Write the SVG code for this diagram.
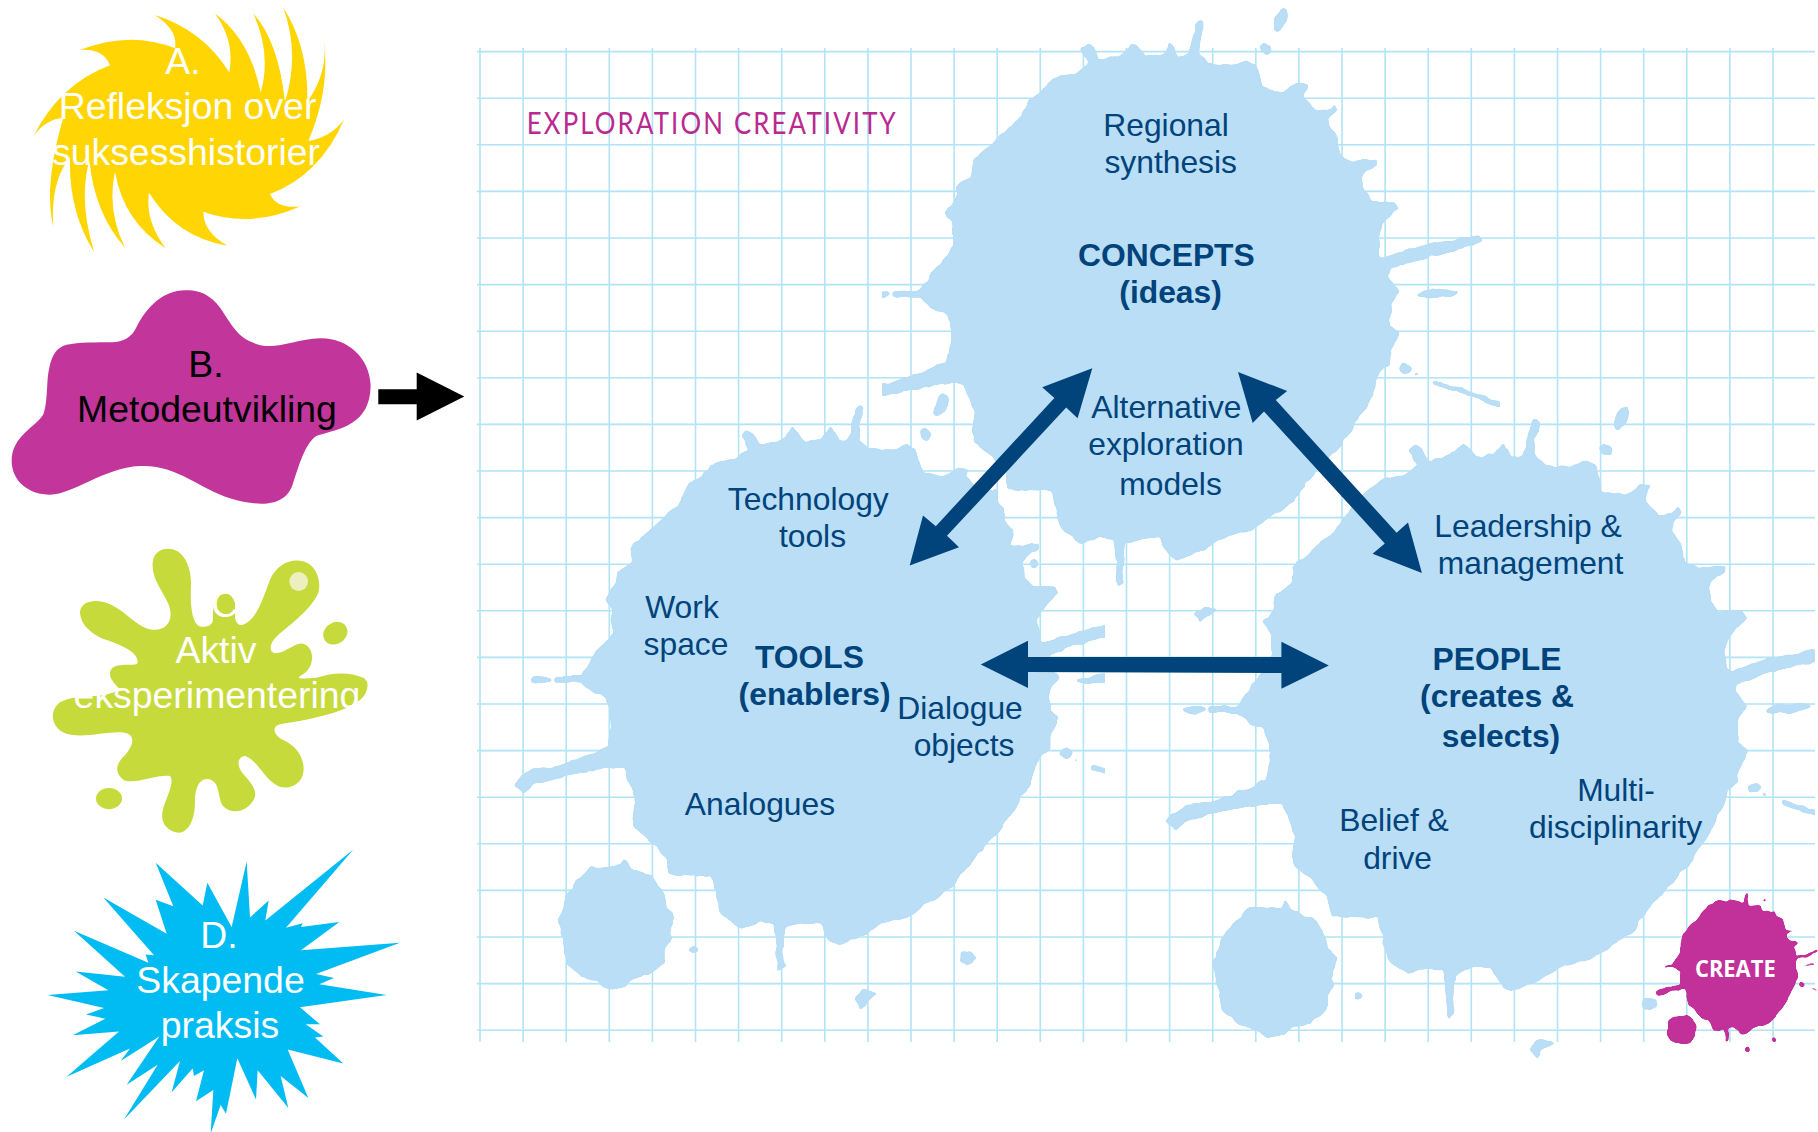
<svg xmlns="http://www.w3.org/2000/svg" xmlns:xlink="http://www.w3.org/1999/xlink" width="1818" height="1132" viewBox="0 0 1818 1132">
<style>
text{font-family:"Liberation Sans",Arial,sans-serif;text-anchor:middle}
.big{font-size:37.4px}
.w{fill:#fff}
.k{fill:#000}
.n{font-size:31.8px;fill:#01437B}
.b{font-weight:bold}
.splash{fill:#B9DEF6;stroke:#B9DEF6;stroke-width:3;stroke-linejoin:round}
.mag{fill:#C2309A}
.arrow{fill:#01437B}
</style>
<defs>
<filter id="organic" filterUnits="userSpaceOnUse" x="0" y="0" width="1818" height="1132" color-interpolation-filters="sRGB">
<feTurbulence type="fractalNoise" baseFrequency="0.07" numOctaves="2" seed="4" result="n"/>
<feDisplacementMap in="SourceGraphic" in2="n" scale="6" xChannelSelector="R" yChannelSelector="G" result="d"/>
<feGaussianBlur in="d" stdDeviation="1.1" result="b"/>
<feComponentTransfer in="b"><feFuncA type="linear" slope="5" intercept="-2"/></feComponentTransfer>
</filter>
<clipPath id="clipConcepts"><rect x="882" y="0" width="936" height="1132"/></clipPath>
<clipPath id="clipTools"><rect x="0" y="0" width="1105" height="1132"/></clipPath>
<clipPath id="clipPeople"><rect x="0" y="0" width="1815" height="1132"/></clipPath>
<g id="splat">
<path d="M636 73L650 60L665 70L680 100L712 92L740 80L760 55L775 72L790 90L830 85L850 55L862 75L870 90L895 85L905 50L915 5L925 -2L932 5L922 60L920 85L945 110L1000 115L1040 100L1060 110L1075 170L1125 185L1165 155L1185 160L1175 195L1205 230L1235 225L1250 212L1258 225L1235 250L1235 265L1255 300L1265 345L1295 358L1355 352L1355 365L1325 385L1315 405L1325 440L1340 460L1395 462L1405 478L1375 505L1355 545L1358 600L1370 605L1460 575L1600 548L1607 560L1590 572L1440 612L1385 635L1378 655L1405 690L1385 720L1383 775L1408 800L1385 840L1385 875L1360 895L1340 960L1305 1020L1270 1075L1240 1110L1180 1180L1150 1230L1080 1275L1050 1300L980 1320L930 1350L870 1378L850 1365L825 1320L780 1320L740 1335L735 1395L738 1430L725 1445L722 1400L715 1325L680 1320L635 1335L590 1300L578 1265L565 1200L460 1195L450 1150L415 1110L375 1075L370 1050L378 1000L350 925L300 925L200 945L130 965L105 988L85 970L90 955L125 930L180 925L255 895L310 870L320 820L315 770L305 745L270 730L245 705L180 705L180 692L246 690L277 641L323 579L323 516L304 490L328 459L333 422L369 396L374 354L481 255L507 203L583 140L625 135L655 109L636 73Z"/>
<ellipse cx="147" cy="698" rx="25" ry="9"/>
<ellipse cx="1500" cy="697" rx="50" ry="9" transform="rotate(-6 1500 697)"/>
<ellipse cx="1423" cy="888" rx="14" ry="12"/>
<circle cx="1448" cy="903" r="3"/>
<path d="M1487 916L1654 974L1652 984L1485 926Z"/>
<ellipse cx="1120" cy="-3" rx="13" ry="28" transform="rotate(20 1120 -3)"/>
<ellipse cx="1084" cy="72" rx="12" ry="13"/>
<path d="M1170 1395L1195 1395L1205 1412L1185 1425L1168 1420Z"/>
<circle cx="520" cy="1388" r="9"/>
<path d="M912 1515L935 1493L965 1505L940 1520L925 1537Z"/>
<path d="M353 1158L369 1184L415 1200L445 1247L450 1273L469 1299L461 1351L466 1362L450 1388L450 1419L410 1455L369 1466L353 1481L312 1490L277 1466L246 1455L210 1424L200 1362L190 1309L210 1252L236 1215L271 1179L307 1179L343 1174Z"/>
</g>
</defs>
<g id="grid" fill="none" stroke="#B0E4F6" stroke-width="1.6">
<path d="M477 51.6H1815M477 98.2H1815M477 144.8H1815M477 191.4H1815M477 238H1815M477 284.6H1815M477 331.2H1815M477 377.8H1815M477 424.4H1815M477 471H1815M477 517.6H1815M477 564.2H1815M477 610.8H1815M477 657.4H1815M477 704H1815M477 750.6H1815M477 797.2H1815M477 843.8H1815M477 890.4H1815M477 937H1815M477 983.6H1815M477 1030.2H1815"/>
<path d="M480 48V1042M523.1 48V1042M566.2 48V1042M609.3 48V1042M652.4 48V1042M695.5 48V1042M738.6 48V1042M781.7 48V1042M824.8 48V1042M867.9 48V1042M911 48V1042M954.1 48V1042M997.2 48V1042M1040.3 48V1042M1083.4 48V1042M1126.5 48V1042M1169.6 48V1042M1212.7 48V1042M1255.8 48V1042M1298.9 48V1042M1342 48V1042M1385.1 48V1042M1428.2 48V1042M1471.3 48V1042M1514.4 48V1042M1557.5 48V1042M1600.6 48V1042M1643.7 48V1042M1686.8 48V1042M1729.9 48V1042M1773 48V1042"/>
</g>
<text transform="translate(526.7,134.3) scale(.86,1)" x="0" y="0" textLength="429" lengthAdjust="spacing" style="font-family:Lato,'Liberation Sans',sans-serif;font-size:30px;text-anchor:start" fill="#B9298F">EXPLORATION CREATIVITY</text>
<g id="concepts" clip-path="url(#clipConcepts)"><g filter="url(#organic)"><use xlink:href="#splat" href="#splat" class="splash" transform="translate(819.8,21.3) scale(.41162,.39112)"/></g></g>
<g id="tools" clip-path="url(#clipTools)"><g filter="url(#organic)"><use xlink:href="#splat" href="#splat" class="splash" transform="translate(479.8,406.3) scale(.41162,.39112)"/></g></g>
<g id="people" clip-path="url(#clipPeople)"><g filter="url(#organic)"><use xlink:href="#splat" href="#splat" class="splash" transform="translate(1130,420) scale(.43879,.41459)"/></g></g>
<g id="create-logo">
<g filter="url(#organic)"><g transform="translate(1630,880) scale(.33333)">
<path class="mag" d="M255 62L290 65L300 58L325 62L340 70L347 38L353 38L352 75L385 72L395 90L420 98L433 90L440 105L455 112L462 135L470 155L490 150L492 157L475 165L480 185L505 185L507 192L490 205L498 228L564 210L564 218L505 235L500 250L505 300L495 320L470 365L450 395L420 425L380 440L340 465L320 450L295 445L292 488L285 488L282 445L250 450L232 420L200 405L175 375L163 325L120 335L85 345L72 338L80 328L120 322L150 310L150 280L130 262L105 260L105 254L130 255L152 215L148 190L175 140L225 90Z"/>
<path class="mag" d="M525 253H555V259H525ZM535 320L564 332V338L533 325Z"/>
<circle class="mag" cx="155" cy="450" r="45"/><circle class="mag" cx="513" cy="315" r="6"/><circle class="mag" cx="220" cy="470" r="5"/><ellipse class="mag" cx="353" cy="509" rx="9" ry="7"/><circle class="mag" cx="435" cy="478" r="7"/><circle class="mag" cx="412" cy="35" r="5"/><circle class="mag" cx="400" cy="60" r="6"/>
</g></g>
<text transform="translate(1630,880) scale(.33333)" x="316" y="290" textLength="242" lengthAdjust="spacingAndGlyphs" class="w b" style="font-family:'Open Sans',sans-serif;font-size:68px">CREATE</text>
</g>
<g id="connectors" class="arrow">
<polygon points="464.3,396.4 416.7,420.4 416.7,404.3 378.3,404.3 378.3,389.3 416.7,389.3 416.7,372.5" fill="#000"/>
<polygon points="1092.3,368.2 1077.6,418.3 1066.2,407.6 947,535.8 959,547.3 909.7,565.6 923,515.5 935.8,526.2 1054.4,398 1042.2,387.3"/>
<polygon points="1238,372 1287.2,391 1275.8,400 1396.6,532.7 1408,522.4 1421.9,572.9 1372.6,553.8 1384.8,543.4 1264,411.4 1252.7,423"/>
<polygon points="980.8,664.5 1028,640.8 1028,657 1281.4,657 1281.4,641.8 1328.8,665.4 1281.4,688.7 1281.4,673 1028,672 1028,688"/>
</g>
<g id="node-a">
<path fill="#FFD503" transform="scale(.33333,.35714)" d="M240 140Q390 85 525 135Q535 85 465 42Q610 85 688 203Q705 115 645 38Q750 110 782 260Q815 150 760 38Q835 115 855 285Q900 150 850 22Q925 130 922 285Q995 190 965 82Q1000 230 925 395Q990 385 1032 335Q960 490 810 543Q830 585 900 578Q750 640 610 593Q610 650 682 688Q530 665 447 540Q435 620 497 695Q370 620 345 480Q320 590 375 693Q285 600 268 450Q235 560 282 705Q205 590 210 440Q150 510 160 635Q130 520 190 330Q135 335 100 382Q180 235 330 183Q310 135 240 140Z"/>
<text class="big w" x="183" y="74">A.</text>
<text class="big w" x="187.5" y="119">Refleksjon over</text>
<text class="big w" x="186" y="165">suksesshistorier</text>
</g>
<g id="node-b">
<path style="fill:#C2369B" transform="scale(.33333,.35714)" d="M555 813C490 813 440 860 410 915C395 945 370 958 335 958C290 958 235 958 200 965C160 975 150 1010 143 1060C140 1100 140 1135 130 1160C110 1195 35 1220 35 1290C35 1350 90 1385 150 1385C220 1385 310 1310 420 1305C530 1300 600 1370 690 1395C780 1420 860 1420 880 1350C895 1310 915 1240 950 1220C1020 1200 1110 1190 1112 1080C1110 1000 1040 945 960 947C880 950 820 985 760 960C700 940 680 880 650 850C615 815 585 813 555 813Z"/>
<text class="big k" x="206" y="377">B.</text>
<text class="big k" x="207" y="421.5">Metodeutvikling</text>
</g>
<g id="node-c">
<g fill="#C6DA3B" transform="translate(0,540) scale(.33333,.37749)">
<path d="M505 23C550 23 575 70 573 120C570 170 575 228 605 230C625 230 640 225 639 207C638 185 640 170 645 159C650 150 655 140 666 138C685 140 700 150 705 167L705 207C710 222 718 226 726 225C770 215 790 150 810 105C830 65 870 50 900 55C950 60 965 110 955 140C930 190 860 230 825 260C810 275 805 295 825 300C860 300 885 270 910 275C945 285 945 335 910 355C890 365 885 370 950 365C1000 350 1050 350 1090 365C1110 375 1105 400 1085 420C1040 460 900 480 840 488C810 495 825 520 850 530C900 550 915 590 910 615C905 650 860 665 830 650C790 630 770 580 735 572C710 575 710 600 730 620C760 650 775 670 760 690C735 725 690 725 670 705C650 685 665 635 620 633C590 635 585 670 585 695C585 740 565 780 530 775C490 765 480 740 490 710C500 680 525 640 510 625C470 620 400 650 370 635C340 615 350 590 375 570C400 545 410 515 370 510C320 505 240 530 190 510C150 490 150 450 180 430C230 405 310 425 360 395C335 375 325 360 332 345C345 322 400 335 412 328C420 300 370 280 320 265C270 250 240 220 240 190C245 160 290 155 330 170C380 190 415 235 460 238C510 240 525 200 500 160C480 125 455 100 458 60C460 35 480 23 505 23Z"/>
<ellipse cx="1006" cy="247" rx="37" ry="29" transform="rotate(-20 1006 247)"/>
<ellipse cx="327" cy="685" rx="39" ry="28"/>
<ellipse cx="896" cy="110" rx="28" ry="25" fill="#EBF0BE"/>
</g>
<text class="big w" x="230" y="617">C.</text>
<text class="big w" x="216" y="663">Aktiv</text>
<text class="big w" x="217" y="708">eksperimentering</text>
</g>
<g id="node-d">
<polygon fill="#00BCF2" transform="translate(0,540) scale(.33333,.37749)" points="1060,820 858,1027 908,1015 903,1025 1018,1012 903,1087 1200,1067 948,1150 1002,1160 958,1177 1160,1205 900,1238 960,1283 917,1283 970,1315 945,1318 1030,1387 863,1350 925,1478 842,1420 865,1505 773,1405 768,1482 712,1373 678,1520 662,1497 632,1572 640,1457 588,1487 612,1405 582,1420 578,1400 515,1463 540,1380 372,1535 473,1390 380,1443 478,1315 362,1380 390,1347 200,1422 357,1302 218,1312 316,1268 258,1257 312,1240 143,1205 325,1193 227,1143 375,1157 222,1035 445,1120 437,1098 462,1100 310,947 500,1043 467,953 520,970 467,855 608,968 622,908 695,1025 740,852 750,1000 806,955 796,1008"/>
<text class="big w" x="219" y="948">D.</text>
<text class="big w" x="220.5" y="993">Skapende</text>
<text class="big w" x="220" y="1037.5">praksis</text>
</g>
<g id="labels-concepts">
<text class="n" x="1166" y="136">Regional</text><text class="n" x="1170.7" y="173">synthesis</text>
<text class="n b" x="1166.4" y="266">CONCEPTS</text><text class="n b" x="1170.6" y="303">(ideas)</text>
<text class="n" x="1166.4" y="418">Alternative</text><text class="n" x="1166" y="454.6">exploration</text><text class="n" x="1170.6" y="494.5">models</text>
</g>
<g id="labels-tools">
<text class="n" x="808.3" y="510.4">Technology</text><text class="n" x="812.5" y="547">tools</text>
<text class="n" x="682" y="617.6">Work</text><text class="n" x="686" y="655">space</text>
<text class="n b" x="809.5" y="668">TOOLS</text><text class="n b" x="814.6" y="705">(enablers)</text>
<text class="n" x="960" y="719">Dialogue</text><text class="n" x="964" y="756">objects</text>
<text class="n" x="760" y="815">Analogues</text>
</g>
<g id="labels-people">
<text class="n" x="1528" y="537">Leadership &amp;</text><text class="n" x="1530.6" y="574">management</text>
<text class="n b" x="1497" y="669.6">PEOPLE</text><text class="n b" x="1497" y="707">(creates &amp;</text><text class="n b" x="1501" y="746.7">selects)</text>
<text class="n" x="1616" y="800.6">Multi-</text><text class="n" x="1615.7" y="838">disciplinarity</text>
<text class="n" x="1394" y="831">Belief &amp;</text><text class="n" x="1397.6" y="868.6">drive</text>
</g>
</svg>
